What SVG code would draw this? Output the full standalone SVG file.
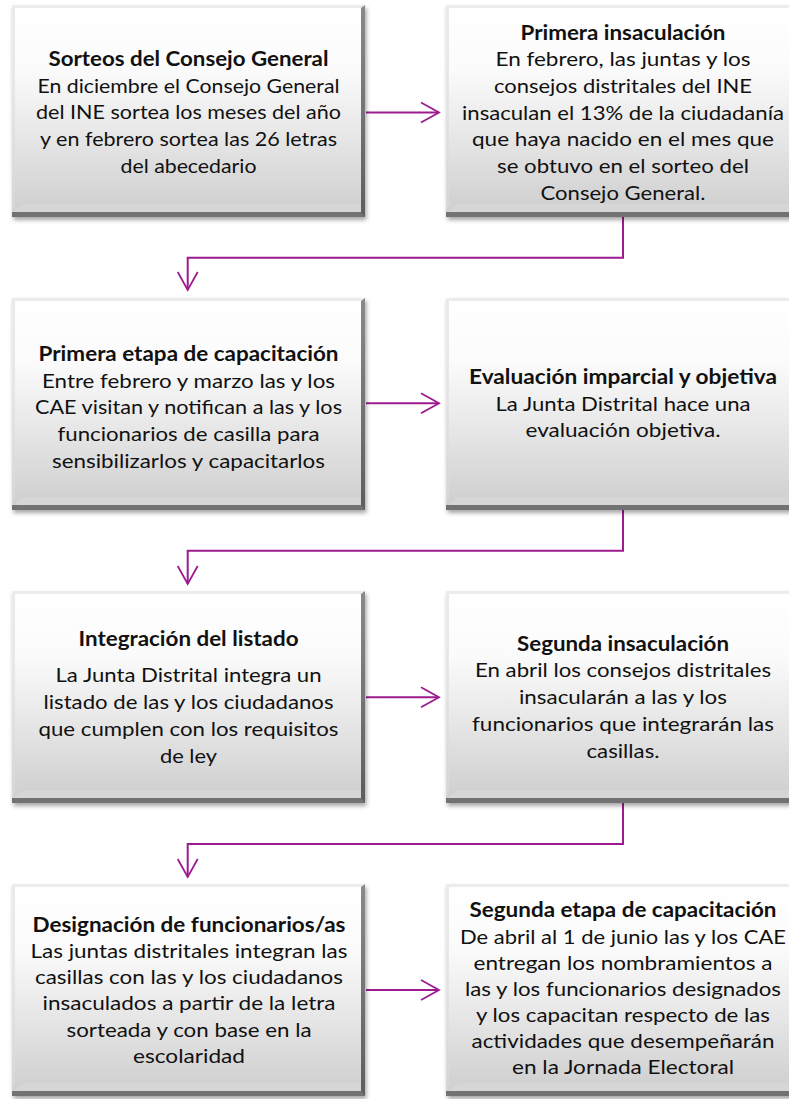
<svg xmlns="http://www.w3.org/2000/svg" xmlns:xlink="http://www.w3.org/1999/xlink" width="789" height="1099" viewBox="0 0 789 1099">
<defs>
<style>
.t{font-family:Lato,"Open Sans","Liberation Sans",sans-serif;font-size:20px;fill:#111;text-anchor:middle}
.b{font-weight:700}
.c{fill:none;stroke:#9d1b8f;stroke-width:2}
</style>
<linearGradient id="g" x1="0" y1="0" x2="0" y2="1">
<stop offset="0" stop-color="#ffffff"/>
<stop offset="0.3" stop-color="#fbfbfb"/>
<stop offset="0.6" stop-color="#e8e8e8"/>
<stop offset="1" stop-color="#cdcdcd"/>
</linearGradient>
<linearGradient id="rg" x1="0" y1="0" x2="0" y2="1">
<stop offset="0" stop-color="#8a8a8a"/>
<stop offset="1" stop-color="#5e5e5e"/>
</linearGradient>
<filter id="sh" x="-5%" y="-5%" width="112%" height="115%">
<feDropShadow dx="1.5" dy="3" stdDeviation="2.2" flood-color="#000" flood-opacity="0.35"/>
</filter>
<marker id="ah" markerUnits="userSpaceOnUse" markerWidth="24" markerHeight="24" refX="18" refY="10" orient="auto" overflow="visible">
<path d="M0,0 L18,10 L0,20" fill="none" stroke="#9d1b8f" stroke-width="1.8"/>
</marker>
<symbol id="box" viewBox="0 0 353 212" width="353" height="212" overflow="visible">
<rect width="353" height="212" fill="url(#g)"/>
<polygon points="0,0 353,0 349,3 3,3" fill="#ececec"/>
<polygon points="0,0 3,3 3,200 0,208" fill="#dcdcdc" opacity="0.6"/>
<polygon points="0,208 12,199 349,199 353,208" fill="#d6d6d6"/>
<rect x="0" y="207" width="353" height="5" fill="#727272"/>
<polygon points="353,0 353,212 349,207 349,3" fill="url(#rg)"/>
</symbol>
</defs>
<rect width="789" height="1099" fill="#ffffff"/>

<g id="connectors">
<path class="c" d="M366,112.5 H439" marker-end="url(#ah)"/>
<path class="c" d="M366,403.3 H439" marker-end="url(#ah)"/>
<path class="c" d="M366,697.3 H439" marker-end="url(#ah)"/>
<path class="c" d="M366,990 H439" marker-end="url(#ah)"/>
<path class="c" d="M623,217 V257.7 H187.7 V290" marker-end="url(#ah)"/>
<path class="c" d="M623,510 V550.7 H187.7 V584" marker-end="url(#ah)"/>
<path class="c" d="M623,803 V844 H187.7 V877" marker-end="url(#ah)"/>
</g>

<g id="n1">
<use xlink:href="#box" x="12" y="5" filter="url(#sh)"/>
<text class="t b" x="188.5" y="66" textLength="280" lengthAdjust="spacingAndGlyphs">Sorteos del Consejo General</text>
<text class="t" x="188.5" y="92.7" textLength="302" lengthAdjust="spacingAndGlyphs">En diciembre el Consejo General</text>
<text class="t" x="188.5" y="119.4" textLength="305" lengthAdjust="spacingAndGlyphs">del INE sortea los meses del año</text>
<text class="t" x="188.5" y="146.1" textLength="297" lengthAdjust="spacingAndGlyphs">y en febrero sortea las 26 letras</text>
<text class="t" x="188.5" y="172.8" textLength="136" lengthAdjust="spacingAndGlyphs">del abecedario</text>
</g>

<g id="n2">
<use xlink:href="#box" x="446" y="5" filter="url(#sh)"/>
<text class="t b" x="623" y="39.5" textLength="205" lengthAdjust="spacingAndGlyphs">Primera insaculación</text>
<text class="t" x="623" y="66.2" textLength="255" lengthAdjust="spacingAndGlyphs">En febrero, las juntas y los</text>
<text class="t" x="623" y="92.9" textLength="258" lengthAdjust="spacingAndGlyphs">consejos distritales del INE</text>
<text class="t" x="623" y="119.6" textLength="322" lengthAdjust="spacingAndGlyphs">insaculan el 13% de la ciudadanía</text>
<text class="t" x="623" y="146.3" textLength="302" lengthAdjust="spacingAndGlyphs">que haya nacido en el mes que</text>
<text class="t" x="623" y="173" textLength="252" lengthAdjust="spacingAndGlyphs">se obtuvo en el sorteo del</text>
<text class="t" x="623" y="199.7" textLength="165" lengthAdjust="spacingAndGlyphs">Consejo General.</text>
</g>

<g id="n3">
<use xlink:href="#box" x="12" y="298" filter="url(#sh)"/>
<text class="t b" x="188.5" y="361" textLength="300" lengthAdjust="spacingAndGlyphs">Primera etapa de capacitación</text>
<text class="t" x="188.5" y="387.7" textLength="293" lengthAdjust="spacingAndGlyphs">Entre febrero y marzo las y los</text>
<text class="t" x="188.5" y="414.4" textLength="307" lengthAdjust="spacingAndGlyphs">CAE visitan y notifican a las y los</text>
<text class="t" x="188.5" y="441.1" textLength="262" lengthAdjust="spacingAndGlyphs">funcionarios de casilla para</text>
<text class="t" x="188.5" y="467.8" textLength="273" lengthAdjust="spacingAndGlyphs">sensibilizarlos y capacitarlos</text>
</g>

<g id="n4">
<use xlink:href="#box" x="446" y="298" filter="url(#sh)"/>
<text class="t b" x="623" y="384" textLength="308" lengthAdjust="spacingAndGlyphs">Evaluación imparcial y objetiva</text>
<text class="t" x="623" y="410.7" textLength="255" lengthAdjust="spacingAndGlyphs">La Junta Distrital hace una</text>
<text class="t" x="623" y="437.4" textLength="195" lengthAdjust="spacingAndGlyphs">evaluación objetiva.</text>
</g>

<g id="n5">
<use xlink:href="#box" x="12" y="591" filter="url(#sh)"/>
<text class="t b" x="188.5" y="645.7" textLength="220" lengthAdjust="spacingAndGlyphs">Integración del listado</text>
<text class="t" x="188.5" y="682.4" textLength="266" lengthAdjust="spacingAndGlyphs">La Junta Distrital integra un</text>
<text class="t" x="188.5" y="709.1" textLength="290" lengthAdjust="spacingAndGlyphs">listado de las y los ciudadanos</text>
<text class="t" x="188.5" y="735.8" textLength="300" lengthAdjust="spacingAndGlyphs">que cumplen con los requisitos</text>
<text class="t" x="188.5" y="762.5" textLength="57" lengthAdjust="spacingAndGlyphs">de ley</text>
</g>

<g id="n6">
<use xlink:href="#box" x="446" y="591" filter="url(#sh)"/>
<text class="t b" x="623" y="650.7" textLength="212" lengthAdjust="spacingAndGlyphs">Segunda insaculación</text>
<text class="t" x="623" y="677.4" textLength="296" lengthAdjust="spacingAndGlyphs">En abril los consejos distritales</text>
<text class="t" x="623" y="704.1" textLength="208" lengthAdjust="spacingAndGlyphs">insacularán a las y los</text>
<text class="t" x="623" y="730.8" textLength="302" lengthAdjust="spacingAndGlyphs">funcionarios que integrarán las</text>
<text class="t" x="623" y="757.5" textLength="73" lengthAdjust="spacingAndGlyphs">casillas.</text>
</g>

<g id="n7">
<use xlink:href="#box" x="12" y="884" filter="url(#sh)"/>
<text class="t b" x="189" y="931.5" textLength="313" lengthAdjust="spacingAndGlyphs">Designación de funcionarios/as</text>
<text class="t" x="189" y="957.8" textLength="317" lengthAdjust="spacingAndGlyphs">Las juntas distritales integran las</text>
<text class="t" x="189" y="984" textLength="308" lengthAdjust="spacingAndGlyphs">casillas con las y los ciudadanos</text>
<text class="t" x="189" y="1010.3" textLength="293" lengthAdjust="spacingAndGlyphs">insaculados a partir de la letra</text>
<text class="t" x="189" y="1036.6" textLength="245" lengthAdjust="spacingAndGlyphs">sorteada y con base en la</text>
<text class="t" x="189" y="1062.9" textLength="112" lengthAdjust="spacingAndGlyphs">escolaridad</text>
</g>

<g id="n8">
<use xlink:href="#box" x="446" y="884" filter="url(#sh)"/>
<text class="t b" x="623" y="917.4" textLength="307" lengthAdjust="spacingAndGlyphs">Segunda etapa de capacitación</text>
<text class="t" x="623" y="943.5" textLength="326" lengthAdjust="spacingAndGlyphs">De abril al 1 de junio las y los CAE</text>
<text class="t" x="623" y="969.6" textLength="299" lengthAdjust="spacingAndGlyphs">entregan los nombramientos a</text>
<text class="t" x="623" y="995.7" textLength="316" lengthAdjust="spacingAndGlyphs">las y los funcionarios designados</text>
<text class="t" x="623" y="1021.8" textLength="294" lengthAdjust="spacingAndGlyphs">y los capacitan respecto de las</text>
<text class="t" x="623" y="1047.9" textLength="303" lengthAdjust="spacingAndGlyphs">actividades que desempeñarán</text>
<text class="t" x="623" y="1074" textLength="222" lengthAdjust="spacingAndGlyphs">en la Jornada Electoral</text>
</g>
</svg>
